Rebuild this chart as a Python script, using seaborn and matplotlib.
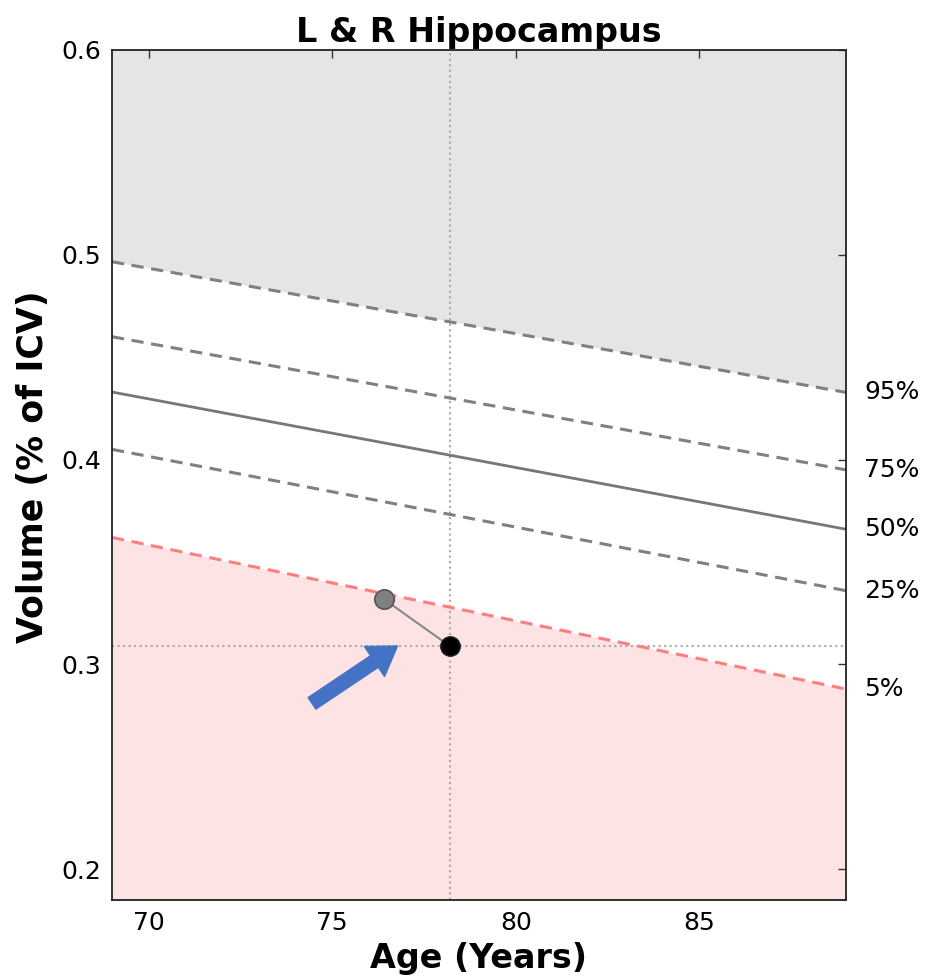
import numpy as np
import pandas as pd
import matplotlib
matplotlib.use('Agg')
import seaborn as sns
import matplotlib.pyplot as plt

# percentile curves: value at age 69 and at age 89
ages = [69, 89]
pct_labels = ['95%', '75%', '50%', '25%', '5%']
pct_start = [0.4966, 0.460, 0.433, 0.405, 0.362]
pct_end = [0.4328, 0.395, 0.366, 0.336, 0.288]

# patient visits
visit_age = [76.4, 78.2]
visit_vol = [0.332, 0.309]

sns.set_style('white')
plt.rcParams['font.family'] = ['DejaVu Sans']
plt.rcParams['xtick.direction'] = 'in'
plt.rcParams['ytick.direction'] = 'in'
plt.rcParams['text.color'] = 'black'
plt.rcParams['axes.labelcolor'] = 'black'
plt.rcParams['xtick.labelcolor'] = 'black'
plt.rcParams['ytick.labelcolor'] = 'black'

fig = plt.figure(figsize=(9.31, 9.76), dpi=100)
ax = fig.add_axes([0.1203, 0.0779, 0.7884, 0.8709])

x = np.array(ages, dtype=float)
upper = np.array([pct_start[0], pct_end[0]])
lower = np.array([pct_start[-1], pct_end[-1]])
ax.fill_between(x, upper, 1.0, color='#e5e5e5', zorder=0, linewidth=0)
ax.fill_between(x, 0.0, lower, color='#fde3e3', zorder=0, linewidth=0)

for lab, y0, y1 in zip(pct_labels, pct_start, pct_end):
    df = pd.DataFrame({'age': ages, 'vol': [y0, y1]})
    if lab == '50%':
        sns.lineplot(data=df, x='age', y='vol', ax=ax, color='#777777', linewidth=2.0)
    elif lab == '5%':
        sns.lineplot(data=df, x='age', y='vol', ax=ax, color='#ff7f7f', linewidth=2.2,
                     linestyle=(0, (4, 2.5)))
    else:
        sns.lineplot(data=df, x='age', y='vol', ax=ax, color='#808080', linewidth=2.2,
                     linestyle=(0, (4, 2.5)))
    ax.text(89.5, y1, lab, fontsize=18, va='center', ha='left', clip_on=False)

# crosshair through the latest visit
ax.axvline(visit_age[-1], color='#aaaaaa', linestyle=':', linewidth=1.5, zorder=1)
ax.axhline(visit_vol[-1], color='#aaaaaa', linestyle=':', linewidth=1.5, zorder=1)

visits = pd.DataFrame({'age': visit_age, 'vol': visit_vol})
sns.lineplot(data=visits, x='age', y='vol', ax=ax, color='#888888', linewidth=1.5, zorder=3)
ax.plot(visit_age[0], visit_vol[0], 'o', color='#808080', markeredgecolor='#555555',
        markersize=14, markeredgewidth=1.2, zorder=4)
ax.plot(visit_age[1], visit_vol[1], 'o', color='black', markeredgecolor='#222222',
        markersize=14, zorder=4)

ax.annotate('', xy=(76.78, 0.309), xytext=(74.45, 0.281),
            arrowprops=dict(arrowstyle='simple,head_width=2.6,head_length=2.0,tail_width=1.0',
                            color='#4472c4', shrinkA=0, shrinkB=0), zorder=5)

ax.set_xlim(69, 89)
ax.set_ylim(0.185, 0.6)
ax.set_xticks([70, 75, 80, 85])
ax.set_yticks([0.2, 0.3, 0.4, 0.5, 0.6])
ax.tick_params(axis='both', which='major', labelsize=18, length=6, width=1,
               top=True, right=True, color='#333333', pad=8)
for s in ax.spines.values():
    s.set_linewidth(1.3)
    s.set_color('#222222')

ax.set_xlabel('Age (Years)', fontsize=24, fontweight='bold', labelpad=5)
ax.set_ylabel('Volume (% of ICV)', fontsize=25, fontweight='bold')
ax.yaxis.set_label_coords(-0.085, 0.51)
ax.set_title('L & R Hippocampus', fontsize=24, fontweight='bold', pad=6)

fig.savefig('out.png', dpi=100)
